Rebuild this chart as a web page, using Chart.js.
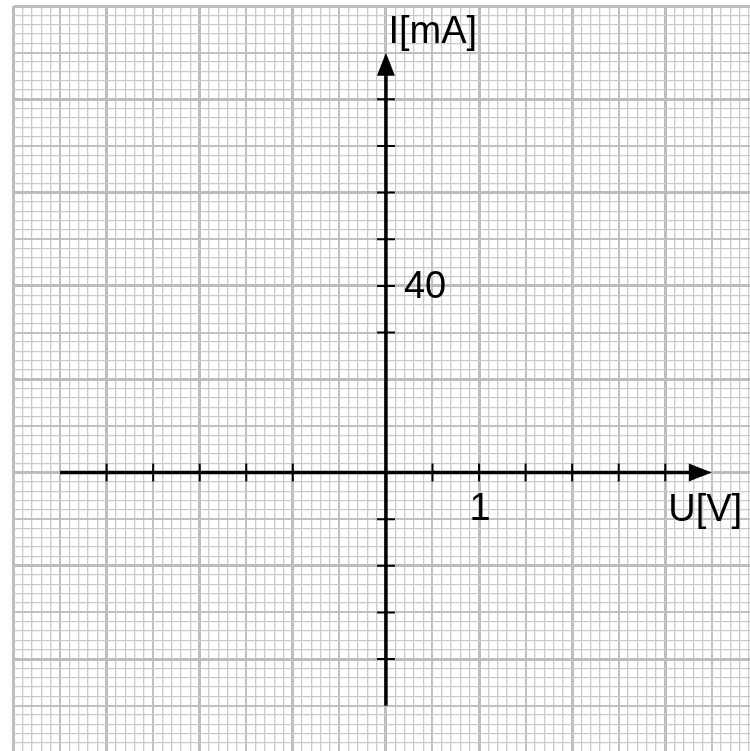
<!DOCTYPE html>
<html>
<head>
<meta charset="utf-8">
<script src="https://cdn.jsdelivr.net/npm/chart.js@4"></script>
<style>
  html, body { margin: 0; padding: 0; background: #fff; overflow: hidden; }
  canvas { display: block; }
</style>
</head>
<body>
<canvas id="iuChart" width="750" height="751"></canvas>
<script>
// Millimetre paper: U in volts on x, I in milliamps on y
const xRange = [-4, 3.91];
const yRange = [-59.7, 100];
const xGridStep = 0.1;   // 1 V = 10 small squares
const yGridStep = 2;     // 20 mA = 10 small squares

// Axis lines (start value, arrow tip value)
const xAxisLine = [-3.5, 3.5];
const yAxisLine = [-50, 90];

// Tick marks along the axes
const xTicks = [-3, -2.5, -2, -1.5, -1, 0.5, 1, 1.5, 2, 2.5, 3];
const yTicks = [80, 70, 60, 50, 40, 30, -10, -20, -30, -40];

// Labelled ticks
const xTickLabelValues = [1];
const xTickLabels = ['1'];
const yTickLabelValues = [40];
const yTickLabels = ['40'];

const xAxisName = 'U[V]';
const yAxisName = 'I[mA]';

function gridValues(min, max, step) {
    const vals = [];
    const first = Math.ceil(min / step - 1e-9);
    const last = Math.floor(max / step + 1e-9);
    for (let i = first; i <= last; i++) vals.push(+(i * step).toFixed(4));
    return vals;
}

// major every 10 squares, medium every 5, fine lines otherwise
function gridStyle(value, step) {
    const n = Math.round(value / step);
    if (n % 10 === 0) return { color: '#bdbdbd', width: 3 };
    if (n % 5 === 0) return { color: '#c0c0c0', width: 2 };
    return { color: '#cacaca', width: 1.3 };
}

const FONT = '38px "Liberation Sans", Arial, sans-serif';

const axesPlugin = {
    id: 'axesPlugin',
    afterDatasetsDraw(chart) {
        const ctx = chart.ctx;
        const xs = chart.scales.x, ys = chart.scales.y;
        const ox = xs.getPixelForValue(0);
        const oy = ys.getPixelForValue(0);

        ctx.save();
        ctx.strokeStyle = '#000';
        ctx.fillStyle = '#000';

        // axis lines
        ctx.lineWidth = 3.5;
        ctx.beginPath();
        ctx.moveTo(xs.getPixelForValue(xAxisLine[0]), oy);
        ctx.lineTo(xs.getPixelForValue(xAxisLine[1]) - 10, oy);
        ctx.moveTo(ox, ys.getPixelForValue(yAxisLine[0]));
        ctx.lineTo(ox, ys.getPixelForValue(yAxisLine[1]) + 10);
        ctx.stroke();

        // arrow heads
        const tipX = xs.getPixelForValue(xAxisLine[1]);
        ctx.beginPath();
        ctx.moveTo(tipX, oy);
        ctx.lineTo(tipX - 23, oy - 9);
        ctx.lineTo(tipX - 23, oy + 9);
        ctx.closePath();
        ctx.fill();

        const tipY = ys.getPixelForValue(yAxisLine[1]);
        ctx.beginPath();
        ctx.moveTo(ox, tipY);
        ctx.lineTo(ox - 9, tipY + 23);
        ctx.lineTo(ox + 9, tipY + 23);
        ctx.closePath();
        ctx.fill();

        // tick marks
        ctx.lineWidth = 2;
        ctx.beginPath();
        xTicks.forEach(v => {
            const px = xs.getPixelForValue(v);
            ctx.moveTo(px, oy - 9);
            ctx.lineTo(px, oy + 9);
        });
        yTicks.forEach(v => {
            const py = ys.getPixelForValue(v);
            ctx.moveTo(ox - 9, py);
            ctx.lineTo(ox + 9, py);
        });
        ctx.stroke();

        // labels
        ctx.font = FONT;
        ctx.textBaseline = 'alphabetic';
        ctx.textAlign = 'center';
        xTickLabelValues.forEach((v, i) => {
            ctx.fillText(xTickLabels[i], xs.getPixelForValue(v) + 1, oy + 48);
        });
        ctx.textAlign = 'left';
        yTickLabelValues.forEach((v, i) => {
            ctx.fillText(yTickLabels[i], ox + 18, ys.getPixelForValue(v) + 12);
        });

        ctx.fillText(xAxisName, xs.getPixelForValue(3) + 3, oy + 49);
        ctx.fillText(yAxisName, ox + 2.5, tipY - 10);
        ctx.restore();
    }
};

const xGrid = gridValues(xRange[0], xRange[1], xGridStep);
const yGrid = gridValues(yRange[0], yRange[1], yGridStep);

new Chart(document.getElementById('iuChart'), {
    type: 'scatter',
    data: { datasets: [] },
    options: {
        responsive: false,
        animation: false,
        devicePixelRatio: 1,
        layout: { padding: { left: 13.5, top: 6, right: 0, bottom: 0 } },
        plugins: { legend: { display: false }, tooltip: { enabled: false } },
        scales: {
            x: {
                type: 'linear',
                min: xRange[0],
                max: xRange[1],
                afterBuildTicks: scale => { scale.ticks = xGrid.map(v => ({ value: v })); },
                ticks: { display: false },
                border: { display: false },
                grid: {
                    drawTicks: false,
                    color: c => gridStyle(c.tick.value, xGridStep).color,
                    lineWidth: c => gridStyle(c.tick.value, xGridStep).width
                }
            },
            y: {
                type: 'linear',
                min: yRange[0],
                max: yRange[1],
                afterBuildTicks: scale => { scale.ticks = yGrid.map(v => ({ value: v })); },
                ticks: { display: false },
                border: { display: false },
                grid: {
                    drawTicks: false,
                    color: c => gridStyle(c.tick.value, yGridStep).color,
                    lineWidth: c => gridStyle(c.tick.value, yGridStep).width
                }
            }
        }
    },
    plugins: [axesPlugin]
});
</script>
</body>
</html>
